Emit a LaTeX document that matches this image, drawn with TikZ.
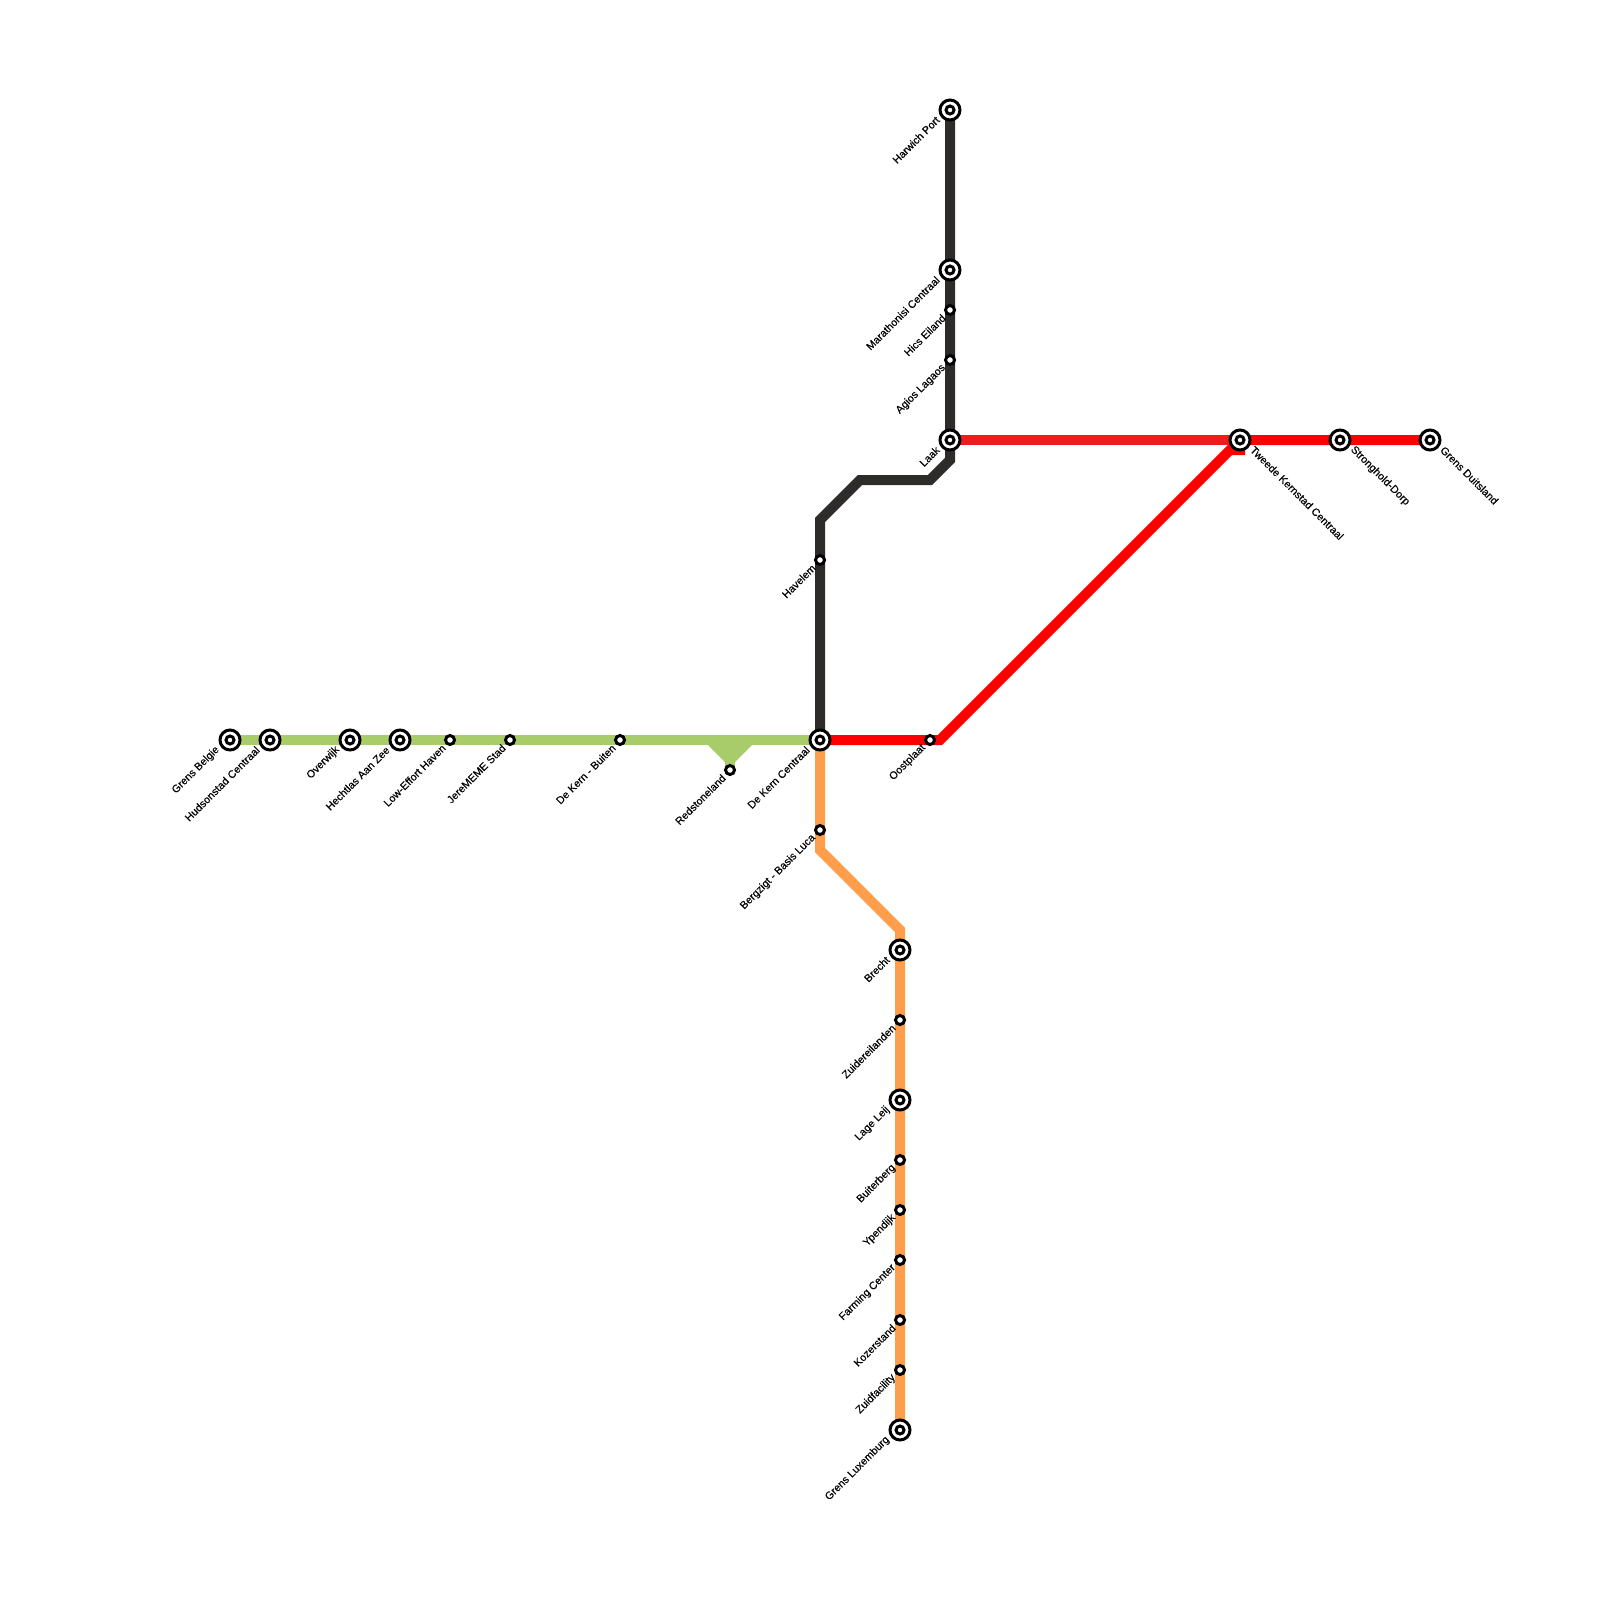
\documentclass[tikz,border=0pt]{standalone}
\usepackage{fontspec}
\setmainfont{Liberation Sans}
\newfontfamily\lblfont[RawFeature={embolden=0.35}]{Liberation Sans}
\usetikzlibrary{calc}
\pgfdeclarelayer{lines}
\pgfsetlayers{lines,main}
\definecolor{lgreen}{HTML}{A8CC6A}
\definecolor{lorange}{HTML}{FF9E4A}
\definecolor{lred}{HTML}{FF0000}
\definecolor{lred2}{HTML}{EE1C1C}
\definecolor{lblack}{HTML}{2D2C2A}
\tikzset{
  x=0.5pt,y=-0.5pt,
  metro/.style={line width=5pt,line join=miter,line cap=butt},
  bigstn/.style={circle,draw=black,fill=white,line width=1.5pt,minimum size=10pt,inner sep=0pt,
    path picture={\draw[black,line width=1.5pt] (path picture bounding box.center) circle (2pt);}},
  smallstn/.style={circle,draw=black,fill=white,line width=1.5pt,minimum size=4.5pt,inner sep=0pt},
  lbl/.style={font=\lblfont\fontsize{5.35}{6}\selectfont,inner sep=0pt,text=black},
  lleft/.style={lbl,anchor=east,rotate=45},
  lright/.style={lbl,anchor=west,rotate=-45},
}
% name, x, y, text
\newcommand{\BigL}[4]{\node[bigstn] (#1) at (#2,#3) {};\node[lleft] (#1t) at (#2-12,#3+8) {#4};}
\newcommand{\SmallL}[4]{\node[smallstn] (#1) at (#2,#3) {};\node[lleft] (#1t) at (#2-6,#3+6) {#4};}
\newcommand{\BigR}[4]{\node[bigstn] (#1) at (#2,#3) {};\node[lright] (#1t) at (#2+12,#3+8) {#4};}
\begin{document}
\begin{tikzpicture}
\useasboundingbox (0,0) rectangle (1600,1600);
% green line stations
\BigL{gb}{230}{740}{Grens Belgie}
\BigL{hc}{270}{740}{Hudsonstad Centraal}
\BigL{ow}{350}{740}{Overwijk}
\BigL{ha}{400}{740}{Hechtlas Aan Zee}
\SmallL{le}{450}{740}{Low-Effort Haven}
\SmallL{js}{510}{740}{JereMEME Stad}
\SmallL{db}{620}{740}{De Kern - Buiten}
\SmallL{rl}{730}{770}{Redstoneland}
\BigL{dk}{820}{740}{De Kern Centraal}
% black line stations
\BigL{hp}{950}{110}{Harwich Port}
\BigL{mc}{950}{270}{Marathonisi Centraal}
\SmallL{he}{950}{310}{Hics Eiland}
\SmallL{al}{950}{360}{Agios Lagaos}
\BigL{la}{950}{440}{Laak}
\SmallL{hv}{820}{560}{Havelem}
% red line stations
\SmallL{op}{930}{740}{Oostplaat}
\BigR{tk}{1240}{440}{Tweede Kernstad Centraal}
\BigR{sd}{1340}{440}{Stronghold-Dorp}
\BigR{gd}{1430}{440}{Grens Duitsland}
% orange line stations
\SmallL{bb}{820}{830}{Bergzigt - Basis Luca}
\BigL{br}{900}{950}{Brecht}
\SmallL{ze}{900}{1020}{Zuidereilanden}
\BigL{ll}{900}{1100}{Lage Leij}
\SmallL{bu}{900}{1160}{Buiterberg}
\SmallL{yp}{900}{1210}{Ypendijk}
\SmallL{fc}{900}{1260}{Farming Center}
\SmallL{ko}{900}{1320}{Kozerstand}
\SmallL{zf}{900}{1370}{Zuidfacility}
\BigL{gl}{900}{1430}{Grens Luxemburg}
% bends
\coordinate (k1) at (820,520);
\coordinate (k2) at (860,480);
\coordinate (k3) at (930,480);
\coordinate (k4) at (950,460);
\coordinate (r1) at (940,740);
\coordinate (r2) at (1230,450);
\coordinate (r3) at (1240,450);
\coordinate (o1) at (820,850);
\coordinate (o2) at (900,930);
\coordinate (g1) at (710,740);
\coordinate (g2) at (730,760);
\coordinate (g3) at (750,740);
\begin{pgfonlayer}{lines}
\draw[metro,lgreen] (gb.center) -- (dk.center);
\draw[metro,lgreen,fill=lgreen] (g1) -- (g2) -- (g3) -- cycle;
\draw[metro,lgreen] (g2) -- (rl.center);
\draw[metro,lorange] (dk.center) -- (o1) -- (o2) -- (gl.center);
\draw[metro,lblack] (hp.center) -- (k4) -- (k3) -- (k2) -- (k1) -- (dk.center);
\draw[metro,lred2] (la.center) -- (tk.center);
\draw[metro,lred] (gd.center) -- (tk.center) -- (r3) -- (r2) -- (r1) -- (dk.center);
\end{pgfonlayer}
\end{tikzpicture}
\end{document}
